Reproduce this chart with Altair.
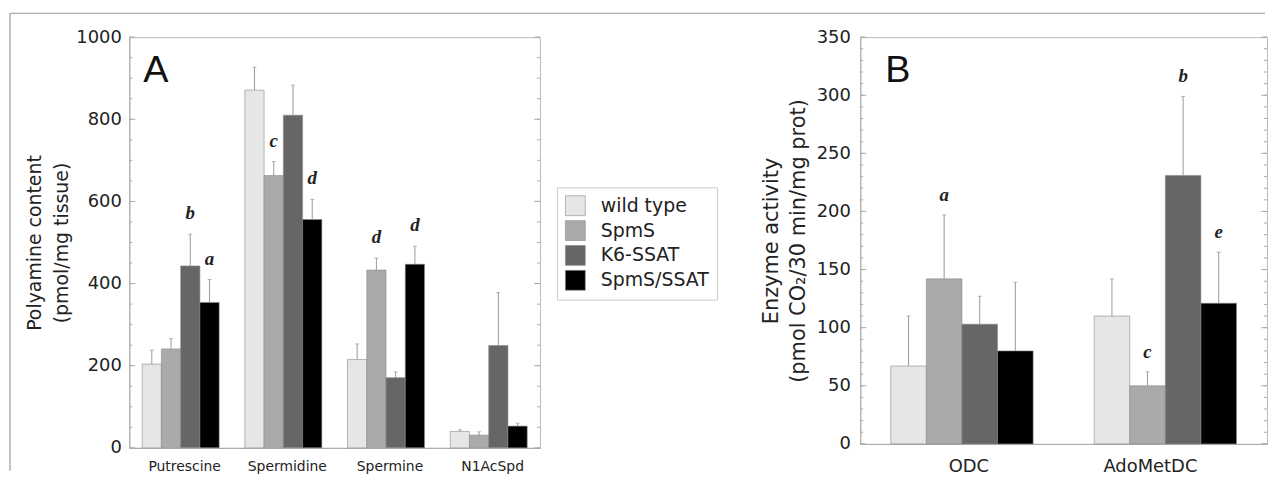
import altair as alt
import pandas as pd

# ---------------- data ----------------
groups = ["wild type", "SpmS", "K6-SSAT", "SpmS/SSAT"]
group_colors = ["#e6e6e6", "#aaaaaa", "#666666", "#000000"]

a_categories = ["Putrescine", "Spermidine", "Spermine", "N1AcSpd"]
a_wild = [204, 871, 215, 40]
a_wild_err = [238, 927, 253, 44]
a_spms = [241, 663, 433, 31]
a_spms_err = [266, 697, 462, 39]
a_k6 = [443, 810, 171, 249]
a_k6_err = [520, 883, 185, 378]
a_double = [354, 556, 447, 53]
a_double_err = [410, 605, 491, 60]
a_letter_cat = ["Putrescine", "Putrescine", "Spermidine", "Spermidine", "Spermine", "Spermine"]
a_letter_grp = ["K6-SSAT", "SpmS/SSAT", "SpmS", "SpmS/SSAT", "SpmS", "SpmS/SSAT"]
a_letter_txt = ["b", "a", "c", "d", "d", "d"]
a_major = [0, 200, 400, 600, 800, 1000]
a_minor = list(range(0, 1001, 50))

b_categories = ["ODC", "AdoMetDC"]
b_wild = [67, 110]
b_wild_err = [110, 142]
b_spms = [142, 50]
b_spms_err = [197, 62]
b_k6 = [103, 231]
b_k6_err = [127, 299]
b_double = [80, 121]
b_double_err = [139, 165]
b_letter_cat = ["ODC", "AdoMetDC", "AdoMetDC", "AdoMetDC"]
b_letter_grp = ["SpmS", "K6-SSAT", "SpmS", "SpmS/SSAT"]
b_letter_txt = ["a", "b", "c", "e"]
b_major = [0, 50, 100, 150, 200, 250, 300, 350]
b_minor = list(range(0, 351, 10))

FONT = "DejaVu Sans"


def make_df(cats, series, errs):
    rows = []
    for g, vals, es in zip(groups, series, errs):
        for c, v, e in zip(cats, vals, es):
            rows.append({"cat": c, "grp": g, "val": v, "err": e})
    return pd.DataFrame(rows)


df_a = make_df(a_categories, [a_wild, a_spms, a_k6, a_double],
               [a_wild_err, a_spms_err, a_k6_err, a_double_err])
df_b = make_df(b_categories, [b_wild, b_spms, b_k6, b_double],
               [b_wild_err, b_spms_err, b_k6_err, b_double_err])


def letters_df(df, cats, grps, txt):
    out = []
    for c, g, t in zip(cats, grps, txt):
        e = df[(df.cat == c) & (df.grp == g)]["err"].iloc[0]
        out.append({"cat": c, "grp": g, "err": e, "letter": t})
    return pd.DataFrame(out)


lt_a = letters_df(df_a, a_letter_cat, a_letter_grp, a_letter_txt)
lt_b = letters_df(df_b, b_letter_cat, b_letter_grp, b_letter_txt)


def panel(df, lt, cats, W, H, ymax, major, minor, ytitle, title_size,
          title_lh, title_pad, label_pad, pad_inner, pad_outer, xlab_size,
          xlab_pad, xlab_off, letter, letter_x, letter_dy, legend, frame):
    xenc = alt.X("cat:N", sort=cats,
                 scale=alt.Scale(domain=cats, paddingInner=pad_inner,
                                 paddingOuter=pad_outer),
                 axis=alt.Axis(title=None, labelAngle=0, ticks=False, tickSize=0,
                               domainColor="#aaaaaa", labelFontSize=xlab_size,
                               labelPadding=xlab_pad, labelOffset=xlab_off,
                               labelColor="#222222", labelFont=FONT))
    xo = alt.XOffset("grp:N", sort=groups, scale=alt.Scale(domain=groups))
    yscale = alt.Scale(domain=[0, ymax], nice=False, zero=True)
    yenc = alt.Y("val:Q", scale=yscale,
                 axis=alt.Axis(values=major, format="d", ticks=False, tickSize=0,
                               grid=False, domainColor="#aaaaaa", labelFontSize=18,
                               labelFont=FONT, labelColor="#222222",
                               labelPadding=label_pad, title=ytitle,
                               titleFont=FONT, titleFontSize=title_size,
                               titleFontWeight="normal", titleColor="#222222",
                               titleLineHeight=title_lh, titlePadding=title_pad))
    color = alt.Color("grp:N", sort=groups,
                      scale=alt.Scale(domain=groups, range=group_colors),
                      legend=legend)
    base = alt.Chart(df)
    bars = base.mark_bar(stroke="#888888", strokeWidth=0.6).encode(
        x=xenc, xOffset=xo, y=yenc, color=color)
    err = base.mark_rule(color="#999999", strokeWidth=1).encode(
        x=xenc, xOffset=xo, y=alt.Y("val:Q", scale=yscale), y2="err:Q")
    cap = base.mark_tick(color="#999999", thickness=1, size=4).encode(
        x=xenc, xOffset=xo, y=alt.Y("err:Q", scale=yscale))
    let = alt.Chart(lt).mark_text(font="Liberation Serif", fontStyle="italic",
                                  fontWeight="bold", fontSize=19,
                                  baseline="alphabetic", dy=letter_dy,
                                  color="#222222").encode(
        x=xenc, xOffset=xo, y=alt.Y("err:Q", scale=yscale), text="letter:N")

    tmin = pd.DataFrame({"t": minor})
    tmaj = pd.DataFrame({"t": major})
    tick_layers = []
    for d, ln in ((tmin, 3), (tmaj, 6)):
        for x1, x2 in ((0, ln), (W - ln, W)):
            tick_layers.append(
                alt.Chart(d).mark_rule(color="#aaaaaa", strokeWidth=1).encode(
                    y=alt.Y("t:Q", scale=yscale), x=alt.value(x1), x2=alt.value(x2)))

    pl = alt.Chart(pd.DataFrame({"t": [letter]})).mark_text(
        font="Liberation Sans", fontSize=38, align="left",
        baseline="alphabetic", color="#111111").encode(
        text="t:N", x=alt.value(letter_x), y=alt.value(45))

    layers = [bars, err, cap, let] + tick_layers + [pl]
    if frame:
        one = pd.DataFrame({"k": [0]})
        layers.append(alt.Chart(one).mark_rule(color="#999999", strokeWidth=1.2).encode(
            x=alt.value(-120), y=alt.value(-24), y2=alt.value(436)))
        layers.append(alt.Chart(one).mark_rule(color="#999999", strokeWidth=1.2).encode(
            x=alt.value(-120), x2=alt.value(1142), y=alt.value(-24)))
    return alt.layer(*layers).properties(width=W, height=H)


legend_a = alt.Legend(orient="none", legendX=430, legendY=151, title=None,
                      symbolType="square", symbolSize=400,
                      symbolStrokeColor="#888888", symbolStrokeWidth=0.6,
                      symbolOpacity=1, labelFontSize=19, labelFont=FONT,
                      labelColor="#222222", strokeColor="#cccccc",
                      fillColor="white", padding=8, rowPadding=2.0,
                      labelOffset=15)

b_label_offset = {"condition": {"test": "datum.value == 'ODC'", "value": 7},
                  "value": -15}

panel_a = panel(df_a, lt_a, a_categories, 413, 413, 1000, a_major, a_minor,
                ["Polyamine content", "(pmol/mg tissue)"], 19, 28, 4, 8,
                0.25, 0.125, 14, 12, 4, "A", 14, -15, legend_a, True)
panel_b = panel(df_b, lt_b, b_categories, 409, 409, 350, b_major, b_minor,
                ["Enzyme activity", "(pmol CO\u2082/30 min/mg prot)"], 21, 27, 8, 10,
                0.3, 0.15, 18, 14, b_label_offset, "B", 25, -14, None, False)

chart = alt.hconcat(panel_a, panel_b, spacing=322, bounds="flush").resolve_scale(
    color="independent", xOffset="independent").properties(
    padding={"left": 0, "top": 2, "right": 0, "bottom": 0}).configure_view(
    stroke="#bbbbbb", strokeWidth=1)

chart.save("out.html", embed_options={"renderer": "svg", "actions": False})
